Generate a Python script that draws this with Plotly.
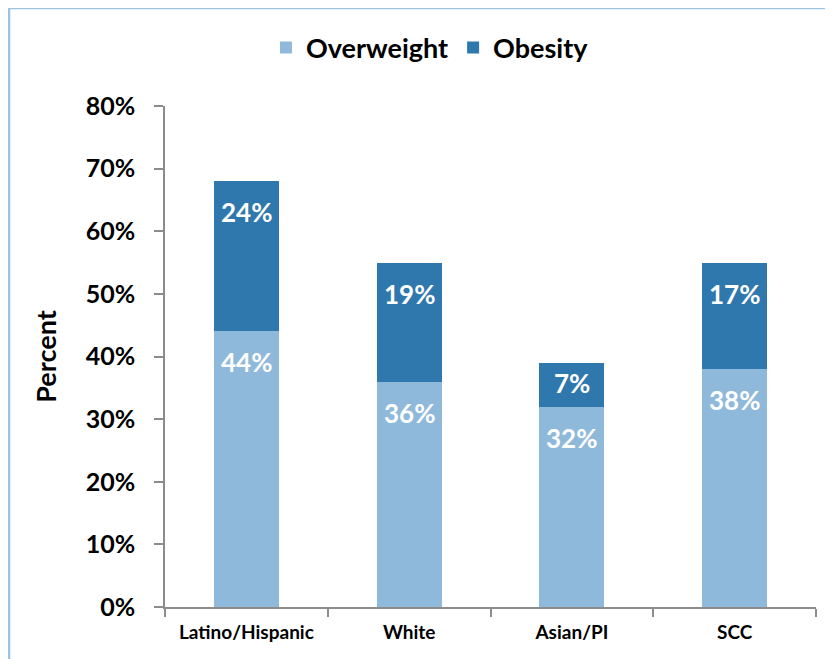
"""Overweight and obesity by ethnicity, stacked bar."""
import plotly.graph_objects as go

GROUPS = ['Latino/Hispanic', 'White', 'Asian/PI', 'SCC']
OVERWEIGHT = [0.44, 0.36, 0.32, 0.38]
OBESITY = [0.24, 0.19, 0.07, 0.17]

LIGHT = '#8FB9DA'
DARK = '#2E78AD'
AXIS = '#8C8C8C'
FONT = 'Lato, Calibri, Arial, sans-serif'
PX_PER_UNIT = 501 / 0.8  # plot height / y range

fig = go.Figure()
annotations = []
base = [0] * len(GROUPS)
for name, vals, color in [('Overweight', OVERWEIGHT, LIGHT), ('Obesity', OBESITY, DARK)]:
    fig.add_trace(go.Bar(
        x=GROUPS, y=vals, name=name, marker_color=color, marker_line_width=0,
        width=0.4,
    ))
    for i, (g, v) in enumerate(zip(GROUPS, vals)):
        top = base[i] + v
        annotations.append(dict(
            x=g, y=top, text=f'<b>{v * 100:.0f}%</b>', showarrow=False,
            yanchor='middle', yshift=-min(31, v * PX_PER_UNIT / 2 - 2),
            font=dict(family=FONT, size=26, color='white'),
        ))
        base[i] = top

# the page body adds an 8px offset, margins below account for it
fig.update_layout(
    barmode='stack',
    width=833, height=659,
    margin=dict(l=157, r=25, t=98, b=60),
    plot_bgcolor='white', paper_bgcolor='white',
    font=dict(family=FONT, color='black'),
    legend=dict(
        orientation='h', x=0.407, xanchor='center', y=1.116, yanchor='middle',
        font=dict(size=27, weight='bold'), itemwidth=30, traceorder='normal',
    ),
    yaxis=dict(
        range=[0, 0.8], dtick=0.1, tickformat='.0%', automargin=False,
        showgrid=False, zeroline=False,
        showline=True, linecolor=AXIS, linewidth=1.5,
        ticks='outside', ticklen=9, tickcolor=AXIS, tickwidth=1.5,
        ticklabelstandoff=14,
        tickfont=dict(size=25, weight='bold'),
        title=dict(text='Percent', font=dict(size=27, weight='bold'), standoff=21),
    ),
    xaxis=dict(
        automargin=False,
        showgrid=False, showline=True, linecolor=AXIS, linewidth=1.5,
        ticks='outside', tickson='boundaries', ticklen=8, tickcolor=AXIS, tickwidth=1.5,
        ticklabelstandoff=7,
        tickfont=dict(size=19, weight='bold'),
    ),
    annotations=annotations,
    shapes=[dict(
        type='rect', xref='paper', yref='paper',
        x0=-0.2396, x1=1.2, y0=-0.3, y1=1.1956,
        line=dict(color='#9DC3E3', width=2.5), fillcolor='rgba(0,0,0,0)', layer='below',
    )],
)

fig.write_html('out.html')
